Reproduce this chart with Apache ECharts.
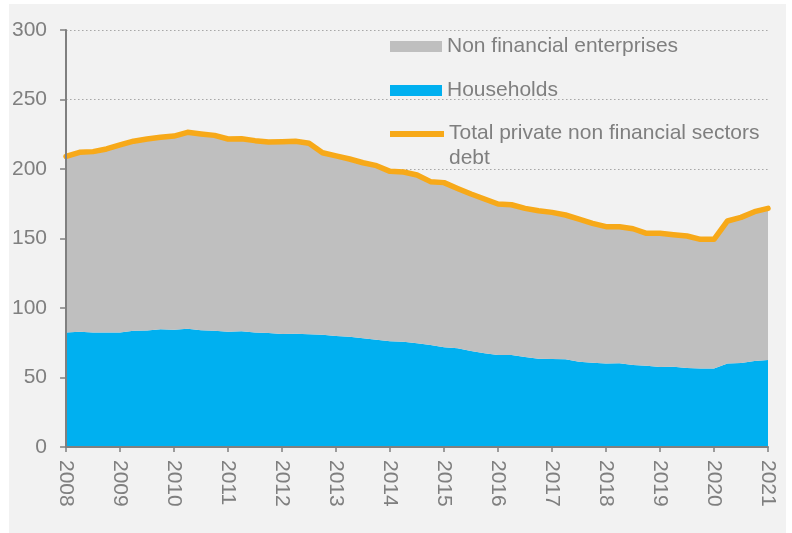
<!DOCTYPE html>
<html>
<head>
<meta charset="utf-8">
<script src="https://cdn.jsdelivr.net/npm/echarts@6/dist/echarts.min.js"></script>
<style>
  html, body { margin: 0; padding: 0; background: #fff; }
  #chart { position: absolute; left: 9px; top: 4px; width: 777px; height: 529px; }
</style>
</head>
<body>
<div id="chart"></div>
<script>
// tick labels (one per year, quarterly data)
const years = ['2008', '2009', '2010', '2011', '2012', '2013', '2014',
  '2015', '2016', '2017', '2018', '2019', '2020', '2021']

// quarterly categories 2008Q1 .. 2021Q1
const categories = []
years.forEach((y, i) => {
  const last = i === years.length - 1
  ;['Q1', 'Q2', 'Q3', 'Q4'].forEach((q, j) => {
    if (!last || j === 0) categories.push(y + q)
  })
})

// % of GDP
const households = [
  82.3, 83.0, 82.3, 82.3, 82.4, 83.7, 83.9, 84.7,
  84.4, 85.1, 84.0, 83.7, 83.0, 83.2, 82.3, 82.0,
  81.3, 81.5, 81.1, 80.8, 79.9, 79.4, 78.2, 77.2,
  76.0, 75.8, 74.6, 73.4, 71.7, 71.0, 69.1, 67.4,
  66.2, 66.2, 64.7, 63.5, 63.3, 63.1, 61.4, 60.7,
  60.0, 60.2, 59.0, 58.5, 57.6, 57.8, 56.8, 56.4,
  56.5, 60.0, 60.4, 61.9, 62.6
]

const nonFinancial = [
  126.7, 129.0, 130.2, 132.1, 134.9, 136.3, 137.7, 138.1,
  139.3, 141.3, 141.2, 140.5, 138.6, 138.6, 138.1, 137.4,
  138.3, 138.4, 137.4, 130.9, 129.5, 127.8, 126.3, 125.2,
  122.3, 122.0, 121.1, 117.5, 118.5, 115.0, 112.9, 111.0,
  108.6, 108.1, 107.0, 106.5, 105.5, 103.8, 102.6, 100.2,
  98.5, 98.3, 98.0, 95.2, 96.1, 94.9, 95.0, 93.0,
  92.9, 102.6, 104.8, 107.4, 109.1
]

const totalDebt = [
  209.0, 212.0, 212.5, 214.4, 217.3, 220.0, 221.6, 222.8,
  223.7, 226.4, 225.2, 224.2, 221.6, 221.8, 220.4, 219.4,
  219.6, 219.9, 218.5, 211.7, 209.4, 207.2, 204.5, 202.4,
  198.3, 197.8, 195.7, 190.9, 190.2, 186.0, 182.0, 178.4,
  174.8, 174.3, 171.7, 170.0, 168.8, 166.9, 164.0, 160.9,
  158.5, 158.5, 157.0, 153.7, 153.7, 152.7, 151.8, 149.4,
  149.4, 162.6, 165.2, 169.3, 171.7
]

const textColor = '#7f7f7f'
const font = 'Liberation Sans, Arial, sans-serif'

const chart = echarts.init(document.getElementById('chart'))

const legendBase = {
  orient: 'vertical',
  left: 381,
  padding: 0,
  icon: 'rect',
  itemWidth: 52,
  itemHeight: 11,
  itemGap: 0,
  textStyle: { color: textColor, fontSize: 21, fontFamily: font }
}

const option = {
  backgroundColor: '#f2f2f2',
  animation: false,
  grid: { left: 57, right: 18, top: 26, bottom: 86 },
  legend: [
    Object.assign({}, legendBase, { top: 32, data: ['Non financial enterprises'] }),
    Object.assign({}, legendBase, { top: 76, data: ['Households'] }),
    Object.assign({}, legendBase, {
      top: 119,
      itemWidth: 54,
      itemHeight: 6,
      data: ['Total private non financial sectors debt'],
      formatter: () => '{a|Total private non financial sectors}\n{b|debt}',
      textStyle: {
        color: textColor, fontSize: 21, fontFamily: font,
        rich: {
          a: { color: textColor, fontSize: 21, fontFamily: font, lineHeight: 48 },
          b: { color: textColor, fontSize: 21, fontFamily: font, lineHeight: 1 }
        }
      }
    })
  ],
  xAxis: {
    type: 'category',
    boundaryGap: false,
    z: 10,
    data: categories,
    axisLine: { lineStyle: { color: '#808080', width: 2 } },
    axisTick: { show: true, interval: 3, length: 5, lineStyle: { color: '#808080', width: 1.5 } },
    axisLabel: {
      interval: 3,
      rotate: -90,
      margin: 13,
      color: textColor,
      fontSize: 21,
      fontFamily: font,
      formatter: v => v.slice(0, 4)
    }
  },
  yAxis: [
    {
      // visible axis, drawn above the areas
      type: 'value',
      min: 0,
      max: 300,
      interval: 50,
      z: 10,
      axisLine: { show: true, lineStyle: { color: '#808080', width: 2 } },
      axisTick: { show: true, length: 6, lineStyle: { color: '#808080', width: 1.5 } },
      axisLabel: { margin: 19, color: textColor, fontSize: 21, fontFamily: font },
      splitLine: { show: false }
    },
    {
      // dotted gridlines only, kept behind the areas
      type: 'value',
      position: 'left',
      min: 0,
      max: 300,
      interval: 50,
      z: 0,
      axisLine: { show: false },
      axisTick: { show: false },
      axisLabel: { show: false },
      splitLine: { show: true, lineStyle: { type: [1.5, 2.5], color: '#a6a6a6', width: 1 } }
    }
  ],
  series: [
    {
      name: 'Households',
      type: 'line',
      stack: 'debt',
      data: households,
      symbol: 'none',
      lineStyle: { width: 0 },
      itemStyle: { color: '#00b0f0' },
      areaStyle: { color: '#00b0f0', opacity: 1 }
    },
    {
      name: 'Non financial enterprises',
      type: 'line',
      stack: 'debt',
      data: nonFinancial,
      symbol: 'none',
      lineStyle: { width: 0 },
      itemStyle: { color: '#bfbfbf' },
      areaStyle: { color: '#bfbfbf', opacity: 1 }
    },
    {
      name: 'Total private non financial sectors debt',
      type: 'line',
      data: totalDebt,
      symbol: 'none',
      z: 5,
      itemStyle: { color: '#f7a919' },
      lineStyle: { color: '#f7a919', width: 5.5, join: 'round', cap: 'round' }
    }
  ]
}

chart.setOption(option)
</script>
</body>
</html>
